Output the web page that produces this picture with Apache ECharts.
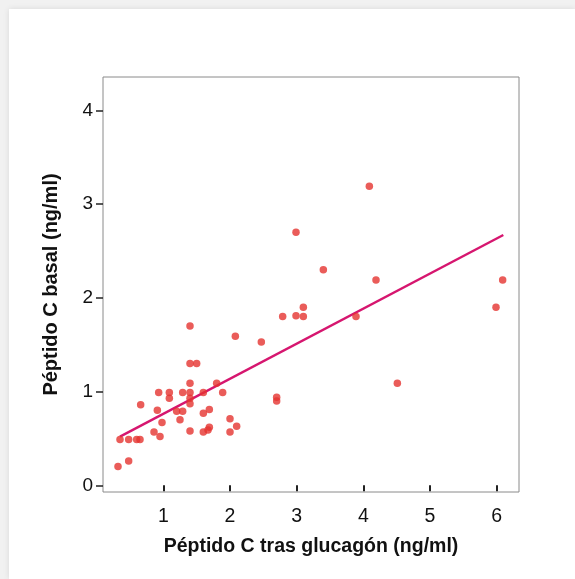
<!DOCTYPE html>
<html>
<head>
<meta charset="utf-8">
<script src="https://cdn.jsdelivr.net/npm/echarts@6/dist/echarts.min.js"></script>
<style>
html,body{margin:0;padding:0;width:575px;height:579px;overflow:hidden;background:#f1f1f1;}
#card{position:absolute;left:9px;top:9px;width:566px;height:570px;background:#fff;box-shadow:0 0 6px rgba(0,0,0,0.10);}
#chart{position:absolute;left:0;top:0;width:575px;height:579px;}
</style>
</head>
<body>
<div id="card"></div>
<div id="chart"></div>
<script>
// Péptido C tras glucagón (x) vs Péptido C basal (y)
const xValues = [0.32,0.48,0.35,0.48,0.60,0.65,0.66,0.86,0.95,0.91,0.98,0.93,1.09,1.09,1.20,1.25,1.29,1.29,1.40,1.40,1.40,1.40,1.40,1.50,1.40,1.40,1.60,1.60,1.69,1.60,1.69,1.67,1.80,1.89,2.00,2.00,2.10,2.08,2.47,2.70,2.70,2.79,2.99,3.10,3.10,2.99,3.40,3.89,4.09,4.19,4.51,5.99,6.09];
const yValues = [0.20,0.26,0.49,0.49,0.49,0.49,0.86,0.57,0.52,0.80,0.67,0.99,0.99,0.93,0.79,0.70,0.79,0.99,0.99,0.93,0.87,1.09,1.30,1.30,1.70,0.58,0.99,0.77,0.81,0.57,0.62,0.59,1.09,0.99,0.71,0.57,0.63,1.59,1.53,0.94,0.90,1.80,1.81,1.80,1.90,2.70,2.30,1.80,3.19,2.19,1.09,1.90,2.19];
// Fitted regression line
const fitX = [0.35, 6.10];
const fitY = [0.52, 2.67];
const xTicks = [1,2,3,4,5,6];
const yTicks = [0,1,2,3,4];

const points = xValues.map((x,i)=>[x,yValues[i]]);
const fitLine = fitX.map((x,i)=>[x,fitY[i]]);

const chart = echarts.init(document.getElementById('chart'), null, {renderer:'canvas'});
const font = '"Liberation Sans", Arial, sans-serif';
chart.setOption({
  animation:false,
  backgroundColor:'transparent',
  grid:{left:103, top:77, right:56, bottom:87, show:true, borderColor:'#8a8a8a', borderWidth:1, backgroundColor:'#fff'},
  xAxis:{
    type:'value', min:0.095, max:6.335,
    name:'Péptido C tras glucagón (ng/ml)', nameLocation:'middle', nameGap:45,
    nameTextStyle:{fontFamily:font, fontSize:19.5, fontWeight:'bold', color:'#111'},
    axisLine:{show:false},
    splitLine:{show:false},
    axisTick:{show:true, inside:false, length:6, customValues:xTicks, lineStyle:{color:'#222', width:2}},
    axisLabel:{customValues:xTicks, fontFamily:font, fontSize:19.5, color:'#111', margin:15}
  },
  yAxis:{
    type:'value', min:-0.071, max:4.355,
    name:'Péptido C basal (ng/ml)', nameLocation:'middle', nameGap:42,
    nameTextStyle:{fontFamily:font, fontSize:20, fontWeight:'bold', color:'#111'},
    axisLine:{show:false},
    splitLine:{show:false},
    axisTick:{show:true, inside:false, length:7, customValues:yTicks, lineStyle:{color:'#222', width:1.5}},
    axisLabel:{customValues:yTicks, fontFamily:font, fontSize:19, color:'#111', margin:10}
  },
  series:[
    {type:'line', data:fitLine, symbol:'none', lineStyle:{color:'#d6166f', width:2.4}, z:3},
    {type:'scatter', data:points, symbol:'circle', symbolSize:7.5, itemStyle:{color:'#e5332f'}, z:4}
  ]
});
</script>
</body>
</html>
